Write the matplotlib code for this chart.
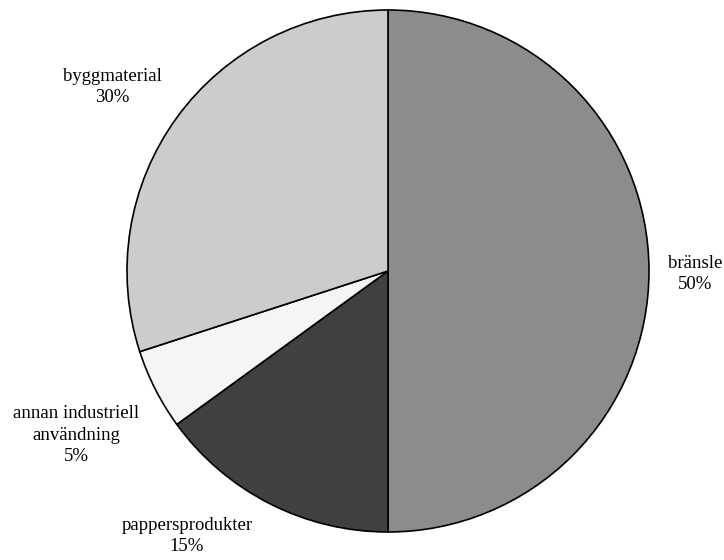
import matplotlib.pyplot as plt

# Användning av trä
labels = ["bränsle", "pappersprodukter", "annan industriell\nanvändning", "byggmaterial"]
shares = [50, 15, 5, 30]
colors = ["#8c8c8c", "#404040", "#f5f5f5", "#cccccc"]

# label anchor points in figure pixels (x, y from top)
label_pos = [(695, 274), (187, 536), (76, 435), (112, 87)]

plt.rcParams['font.family'] = ['Liberation Serif', 'DejaVu Serif']

fig = plt.figure(figsize=(7.24, 5.60), dpi=100)
ax = fig.add_axes([0, 0, 1, 1])
ax.axis('off')

ax.pie(shares, colors=colors, startangle=90, counterclock=False,
       center=(388, 560 - 271), radius=261,
       wedgeprops=dict(edgecolor='black', linewidth=1.2))
ax.set_xlim(0, 724)
ax.set_ylim(0, 560)
ax.set_aspect('equal')

for lab, val, (x, y) in zip(labels, shares, label_pos):
    ax.text(x, 560 - y, f"{lab}\n{val}%", ha='center', va='center',
            fontsize=13.5, linespacing=1.38)

fig.savefig("out.png", dpi=100)
